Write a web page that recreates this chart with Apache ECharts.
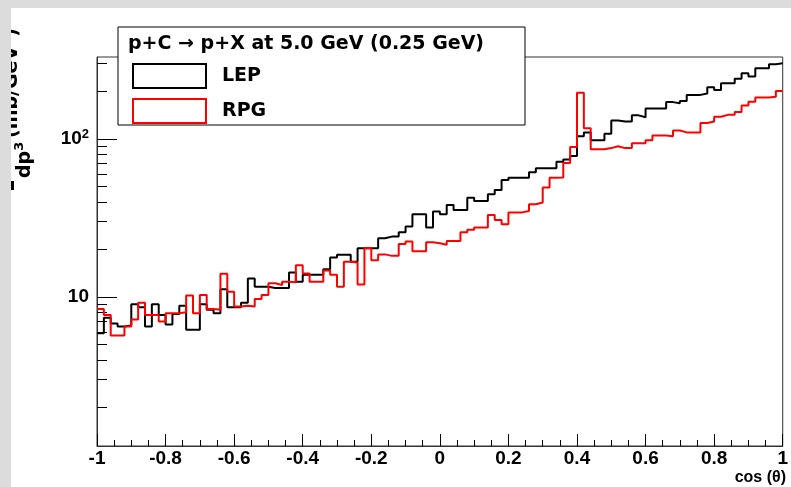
<!DOCTYPE html>
<html><head><meta charset="utf-8">
<script src="https://cdn.jsdelivr.net/npm/echarts@6/dist/echarts.min.js"></script>
<style>
html,body{margin:0;padding:0;background:#dcdcdc;width:791px;height:487px;overflow:hidden}
#c{position:absolute;left:11px;top:8px;width:780px;height:479px;background:#fff;overflow:hidden}
</style></head><body><div id="c"></div>
<script>
// Histogram binning (cos theta from -1 to 1, 100 bins)
const xMin = -1, xMax = 1, binWidth = 0.02;
const seriesNames = ['LEP', 'RPG'];
const lep = [5.9,7.4,6.8,6.5,6.6,9.0,8.6,6.5,9.0,7.7,6.7,7.8,8.8,6.2,6.2,9.0,8.3,7.9,11.2,8.6,
  8.6,9.2,13.1,11.6,11.6,11.4,11.4,11.4,14.3,12.5,13.8,13.8,13.8,15.0,17.8,18.5,18.5,16.7,20.3,20.3,
  20.3,23.5,24.1,24.1,25.7,27.9,33.4,33.4,27.5,34.7,33.4,38.2,35.5,35.5,42.5,40.5,40.5,44.7,47.5,55,
  56.9,56.9,56.9,61.5,65.3,65.3,65.3,71.8,74,78,104,110,98,98,108,131,129,129,141,137,
  156,156,156,171,168,174,190,190,194,212,204,225,225,240,260,248,280,280,297,301];
const rpg = [8.4,7.7,5.7,5.7,6.5,7.2,9.2,7.7,7.7,7.0,7.9,7.9,8.0,10.2,7.9,10.3,8.4,8.3,14.0,10.8,
  8.7,8.8,8.7,9.7,10.3,12.2,11.9,12.5,12.4,15.9,14.1,12.5,12.5,14.7,13.8,11.6,16.7,16.5,12.0,20.3,
  17.1,18.6,18.2,18.2,21.6,22.4,19.5,19.5,22.2,21.9,21.4,22.6,22.6,25.7,26.6,27.5,27.5,33.0,30.7,28.8,
  34.3,34.3,35.0,38.6,39.6,49.2,56.9,57,70.5,89,196,117,86,86,87.5,90,87.5,87.5,94,94,
  98,105,105,104,113,110,110,110,126,129,138,142,142,148,163,172,183,183,185,201];
const yMin = 1.14, yMax = 330;
const yMajorTicks = [10, 100];
const yMajorLabels = ['10', '10{sup|2}'];
const yMinorTicks = [2,3,4,5,6,7,8,9,20,30,40,50,60,70,80,90,200,300];
const legendHeader = 'p+C \u2192 p+X at 5.0 GeV (0.25 GeV)';
const xTitle = 'cos (\u03b8)';
const yTitleDen = 'dp{sup|3}';
const yTitleUnit = '(mb/GeV{sup|2})';

function steps(vals) {
  const pts = vals.map((v, i) => [xMin + i * binWidth, v]);
  pts.push([xMax, vals[vals.length - 1]]);
  return pts;
}

const chart = echarts.init(document.getElementById('c'), null, {renderer: 'canvas'});
const font = 'Liberation Sans, Arial, Helvetica, sans-serif';
const wide = 'DejaVu Sans, sans-serif';
const axisCol = '#333';
const yBase = {
  type: 'log', logBase: 10, min: yMin, max: yMax, position: 'left',
  splitLine: {show: false}, minorSplitLine: {show: false}
};
chart.setOption({
  animation: false,
  grid: {left: 86, top: 49, right: 1, bottom: 41, show: true, borderColor: axisCol, borderWidth: 1, backgroundColor: 'transparent'},
  xAxis: {
    type: 'value', min: xMin, max: xMax, interval: 0.2,
    axisLine: {onZero: false, lineStyle: {color: axisCol, width: 1}},
    axisTick: {inside: true, length: 12, lineStyle: {color: '#000'}},
    minorTick: {show: true, splitNumber: 4, length: 6, lineStyle: {color: '#000'}},
    splitLine: {show: false},
    axisLabel: {margin: 3, color: '#000', fontFamily: font, fontWeight: 'bold', fontSize: 19,
      showMinLabel: true, showMaxLabel: true}
  },
  yAxis: [
    Object.assign({}, yBase, {
      axisLine: {show: true, onZero: false, lineStyle: {color: axisCol, width: 1}},
      axisTick: {show: true, inside: true, length: 20, customValues: yMajorTicks, lineStyle: {color: '#000'}},
      axisLabel: {show: true, customValues: yMajorTicks, margin: 8, color: '#000',
        fontFamily: font, fontWeight: 'bold', fontSize: 19,
        formatter: v => yMajorLabels[yMajorTicks.indexOf(Math.round(v))] || '',
        rich: {sup: {fontFamily: font, fontWeight: 'bold', fontSize: 13, padding: [0, 0, 10, 0], color: '#000'}}}
    }),
    Object.assign({}, yBase, {
      axisLine: {show: false, onZero: false},
      axisTick: {show: true, inside: true, length: 10, customValues: yMinorTicks, lineStyle: {color: '#000'}},
      axisLabel: {show: false}
    })
  ],
  legend: {
    left: 121, top: 55, orient: 'vertical', itemWidth: 73, itemHeight: 24, itemGap: 9, padding: 0,
    icon: 'rect',
    textStyle: {fontFamily: wide, fontWeight: 'bold', fontSize: 19, color: '#000', padding: [0, 0, 0, 11]},
    data: [
      {name: seriesNames[0], itemStyle: {color: 'rgba(0,0,0,0)', borderColor: '#000', borderWidth: 2}},
      {name: seriesNames[1], itemStyle: {color: 'rgba(0,0,0,0)', borderColor: '#ff0000', borderWidth: 2}}
    ],
    z: 20
  },
  graphic: [
    {type: 'rect', shape: {x: 107, y: 19, width: 407, height: 98}, style: {fill: '#fff', stroke: '#000', lineWidth: 1}, z: 10},
    {type: 'text', x: 117, y: 36, style: {text: legendHeader, font: 'bold 19px ' + wide, fill: '#000', textVerticalAlign: 'middle'}, z: 11},
    {type: 'text', x: 775, y: 470, style: {text: xTitle, font: 'bold 16px ' + font, fill: '#000', textAlign: 'right', textVerticalAlign: 'middle'}, z: 11},
    {type: 'text', x: 14, y: 170, rotation: Math.PI / 2,
      style: {text: yTitleDen, font: 'bold 19px ' + wide, fill: '#000', textAlign: 'left', textVerticalAlign: 'middle',
        rich: {sup: {font: 'bold 13px ' + wide, padding: [0, 0, 10, 0]}}}, z: 11},
    {type: 'text', x: 1, y: 130, rotation: Math.PI / 2,
      style: {text: yTitleUnit, font: 'bold 19px ' + wide, fill: '#000', textAlign: 'left', textVerticalAlign: 'middle',
        rich: {sup: {font: 'bold 13px ' + wide, padding: [0, 0, 10, 0]}}}, z: 11},
    {type: 'rect', shape: {x: 0, y: 173, width: 3, height: 9}, style: {fill: '#000'}, z: 11}
  ],
  series: [
    {name: seriesNames[0], type: 'line', step: 'end', data: steps(lep), showSymbol: false, symbol: 'none',
      lineStyle: {color: '#000', width: 2}, itemStyle: {color: '#000'}, clip: true, z: 3},
    {name: seriesNames[1], type: 'line', step: 'end', data: steps(rpg), showSymbol: false, symbol: 'none',
      lineStyle: {color: '#ff0000', width: 2}, itemStyle: {color: '#ff0000'}, clip: true, z: 4}
  ]
});
</script></body></html>
